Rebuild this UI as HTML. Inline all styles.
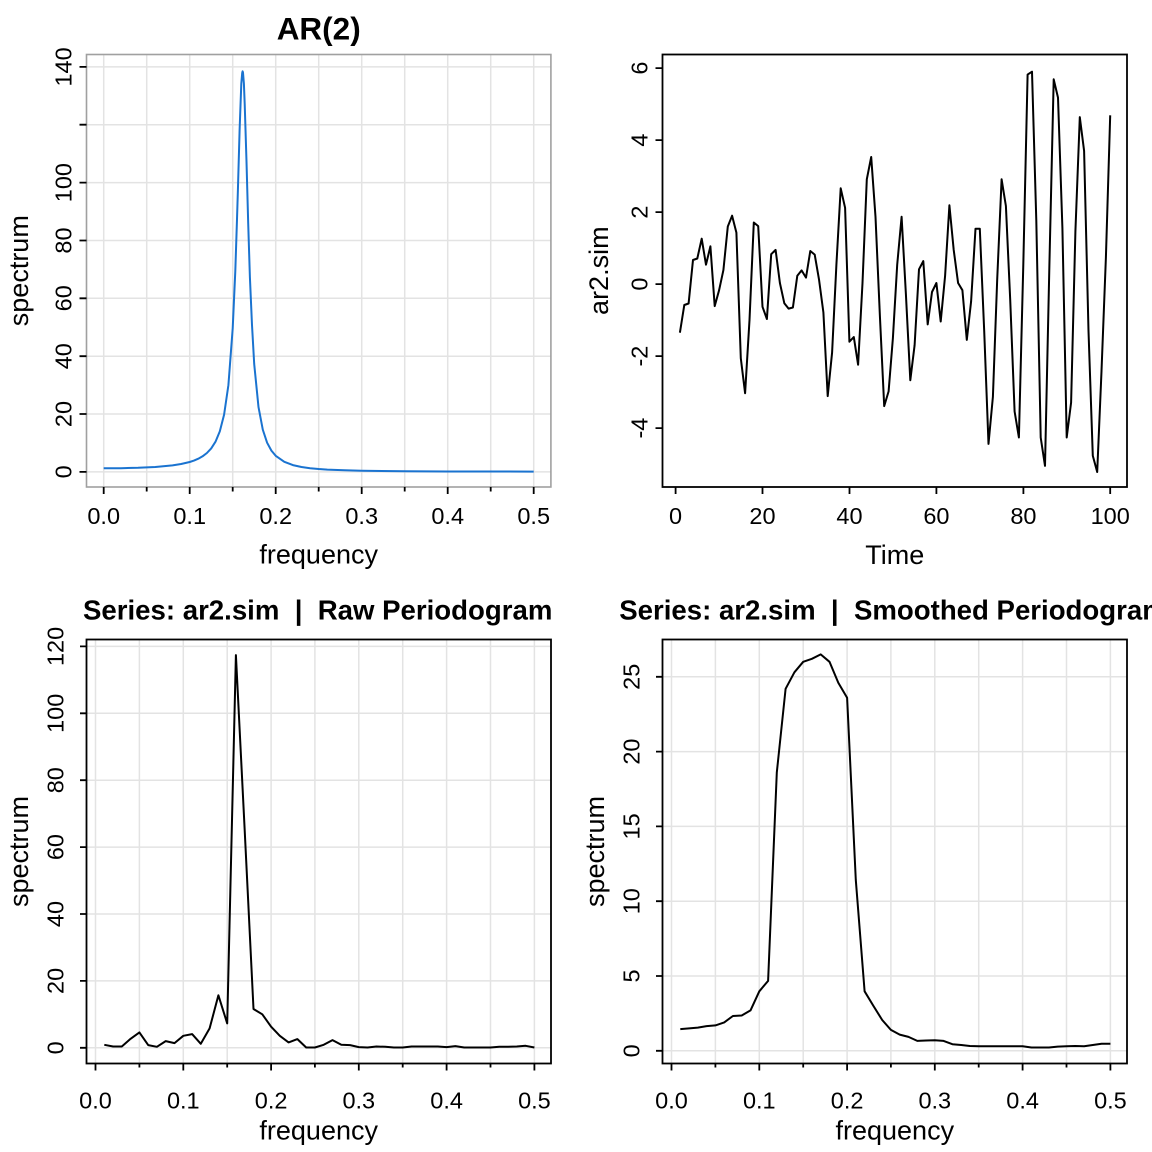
<!DOCTYPE html>
<html><head><meta charset="utf-8"><style>
html,body{margin:0;padding:0;background:#fff;}
svg{display:block;}
text{font-family:"Liberation Sans",Arial,sans-serif;fill:#000;}
.tk{font-size:23.5px;}
.lb{font-size:27px;}
.ti{font-size:27.6px;font-weight:bold;}
</style></head><body>
<svg width="1152" height="1152" viewBox="0 0 1152 1152" xmlns="http://www.w3.org/2000/svg">
<rect x="0" y="0" width="1152" height="1152" fill="#fff"/>

<!-- ===== Panel 1: AR(2) spectrum ===== -->
<g stroke="#e3e3e3" stroke-width="1.5" fill="none">
<path d="M103.7 54.5V487M146.7 54.5V487M189.7 54.5V487M232.7 54.5V487M275.7 54.5V487M318.7 54.5V487M361.7 54.5V487M404.7 54.5V487M447.7 54.5V487M490.7 54.5V487M533.7 54.5V487"/>
<path d="M86.5 471.9H550.9M86.5 414.0H550.9M86.5 356.2H550.9M86.5 298.3H550.9M86.5 240.5H550.9M86.5 182.6H550.9M86.5 124.7H550.9M86.5 66.9H550.9"/>
</g>
<polyline fill="none" stroke="#1a73d0" stroke-width="2" stroke-linejoin="round" points="103.7,468.3 120.9,468.2 138.1,467.8 155.3,467.0 172.5,465.4 181.1,464.0 189.7,462.0 194.0,460.6 198.3,458.7 202.6,456.3 206.9,453.0 211.2,448.4 215.5,441.7 219.8,431.4 224.1,414.6 228.4,385.1 232.7,328.4 235.3,271.1 237.0,219.3 237.9,190.1 239.6,130.2 241.3,83.7 242.2,73.0 242.6,71.3 243.0,72.7 243.9,83.7 244.7,103.9 246.5,161.5 248.2,223.4 249.9,277.2 252.0,325 254.2,364.0 258.5,407.1 262.8,429.7 267.1,442.7 271.4,450.6 275.7,455.8 284.3,461.8 292.9,465.1 301.5,467.0 310.1,468.2 318.7,469.0 327.3,469.6 344.5,470.3 361.7,470.8 404.7,471.3 447.7,471.5 490.7,471.5 533.7,471.6"/>
<rect x="86.5" y="54.5" width="464.4" height="432.5" fill="none" stroke="#a0a0a0" stroke-width="1.6"/>
<g stroke="#000" stroke-width="1.8">
<path d="M103.7 487V494M189.7 487V494M275.7 487V494M361.7 487V494M447.7 487V494M533.7 487V494"/>
<path d="M146.7 487V491.5M232.7 487V491.5M318.7 487V491.5M404.7 487V491.5M490.7 487V491.5"/>
<path d="M79.5 471.9H86.5M79.5 414.0H86.5M79.5 356.2H86.5M79.5 298.3H86.5M79.5 240.5H86.5M79.5 182.6H86.5M79.5 124.7H86.5M79.5 66.9H86.5"/>
</g>
<g class="tk" text-anchor="middle">
<text x="103.7" y="524">0.0</text><text x="189.7" y="524">0.1</text><text x="275.7" y="524">0.2</text><text x="361.7" y="524">0.3</text><text x="447.7" y="524">0.4</text><text x="533.7" y="524">0.5</text>
<text transform="translate(71.7,471.9) rotate(-90)">0</text>
<text transform="translate(71.7,414.0) rotate(-90)">20</text>
<text transform="translate(71.7,356.2) rotate(-90)">40</text>
<text transform="translate(71.7,298.3) rotate(-90)">60</text>
<text transform="translate(71.7,240.5) rotate(-90)">80</text>
<text transform="translate(71.7,182.6) rotate(-90)">100</text>
<text transform="translate(71.7,66.9) rotate(-90)">140</text>
</g>
<text x="318.7" y="39.5" text-anchor="middle" style="font-size:31.5px;font-weight:bold;">AR(2)</text>
<text class="lb" x="318.7" y="563.5" text-anchor="middle">frequency</text>
<text class="lb" transform="translate(28,270.7) rotate(-90)" text-anchor="middle">spectrum</text>

<!-- ===== Panel 2: time series ===== -->
<polyline fill="none" stroke="#000" stroke-width="2" stroke-linejoin="round" points="679.9,332.7 684.3,305.0 688.6,303.5 693.0,260.0 697.3,258.5 701.7,238.7 706.0,264.7 710.4,246.3 714.7,306.1 719.1,290.2 723.4,270.1 727.8,226.5 732.1,215.7 736.4,232.6 740.8,358.3 745.1,393.2 749.5,320.1 753.8,222.5 758.2,226.1 762.5,306.8 766.9,319.0 771.2,254.2 775.6,249.9 779.9,283.0 784.3,303.2 788.6,308.6 792.9,307.5 797.3,275.8 801.6,270.4 806.0,277.6 810.3,251.0 814.7,254.6 819.0,279.4 823.4,312.5 827.7,396.1 832.1,352.5 836.4,264.7 840.7,188.3 845.1,207.8 849.4,341.7 853.8,337.0 858.1,364.7 862.5,283.0 866.8,179.3 871.2,157.0 875.5,216.8 879.9,316.1 884.2,406.1 888.6,391.4 892.9,338.1 897.2,264.7 901.6,216.8 905.9,294.2 910.3,380.2 914.6,345.3 919.0,269.3 923.3,261.1 927.7,324.4 932.0,292.0 936.4,283.0 940.7,321.5 945.1,275.8 949.4,205.3 953.7,249.9 958.1,283.0 962.4,290.2 966.8,339.9 971.1,301.4 975.5,228.7 979.8,228.7 984.2,330.9 988.5,443.9 992.9,396.8 997.2,279.4 1001.6,179.3 1005.9,206.0 1010.2,299.6 1014.6,411.5 1018.9,437.5 1023.3,264.7 1027.6,74.6 1032.0,71.7 1036.3,220.4 1040.7,437.5 1045.0,465.9 1049.4,264.7 1053.7,79.3 1058.0,97.6 1062.4,227.9 1066.7,437.5 1071.1,402.5 1075.4,231.5 1079.8,117.1 1084.1,150.9 1088.5,330.9 1092.8,455.8 1097.2,472.0 1101.5,371.2 1105.9,257.5 1110.2,115.3"/>
<rect x="662.5" y="54.5" width="464.5" height="432.5" fill="none" stroke="#000" stroke-width="1.8"/>
<g stroke="#000" stroke-width="1.8">
<path d="M675.6 487V494M762.5 487V494M849.5 487V494M936.4 487V494M1023.4 487V494M1110.2 487V494"/>
<path d="M655.5 68.1H662.5M655.5 140.1H662.5M655.5 212.1H662.5M655.5 284.1H662.5M655.5 356.1H662.5M655.5 428.1H662.5"/>
</g>
<g class="tk" text-anchor="middle">
<text x="675.6" y="524">0</text><text x="762.5" y="524">20</text><text x="849.5" y="524">40</text><text x="936.4" y="524">60</text><text x="1023.4" y="524">80</text><text x="1110.2" y="524">100</text>
<text transform="translate(647.7,68.1) rotate(-90)">6</text>
<text transform="translate(647.7,140.1) rotate(-90)">4</text>
<text transform="translate(647.7,212.1) rotate(-90)">2</text>
<text transform="translate(647.7,284.1) rotate(-90)">0</text>
<text transform="translate(647.7,356.1) rotate(-90)">-2</text>
<text transform="translate(647.7,428.1) rotate(-90)">-4</text>
</g>
<text class="lb" x="894.8" y="564" text-anchor="middle">Time</text>
<text class="lb" transform="translate(608,270.7) rotate(-90)" text-anchor="middle">ar2.sim</text>

<!-- ===== Panel 3: raw periodogram ===== -->
<g stroke="#e3e3e3" stroke-width="1.5" fill="none">
<path d="M95.5 639.5V1063.5M139.4 639.5V1063.5M183.3 639.5V1063.5M227.2 639.5V1063.5M271.1 639.5V1063.5M314.9 639.5V1063.5M358.8 639.5V1063.5M402.7 639.5V1063.5M446.6 639.5V1063.5M490.5 639.5V1063.5M534.4 639.5V1063.5"/>
<path d="M86.5 1047.8H551M86.5 980.9H551M86.5 914.0H551M86.5 847.1H551M86.5 780.2H551M86.5 713.3H551M86.5 646.4H551"/>
</g>
<polyline fill="none" stroke="#000" stroke-width="2" stroke-linejoin="round" points="104.3,1044.8 113.1,1046.5 121.8,1046.5 130.6,1038.8 139.4,1032.4 148.2,1045.1 156.9,1046.8 165.7,1041.1 174.5,1043.1 183.3,1035.8 192.1,1034.1 200.8,1043.8 209.6,1028.4 218.4,995.3 227.2,1023.4 235.9,655.1 244.7,830.4 253.5,1009.0 262.3,1014.3 271.1,1026.7 279.8,1035.8 288.6,1042.4 297.4,1039.1 306.2,1047.5 314.9,1047.5 323.7,1044.8 332.5,1040.1 341.3,1044.8 350.1,1045.1 358.8,1047.1 367.6,1047.5 376.4,1046.5 385.2,1046.8 393.9,1047.5 402.7,1047.5 411.5,1046.5 420.3,1046.5 429.1,1046.5 437.8,1046.5 446.6,1047.1 455.4,1046.1 464.2,1047.5 472.9,1047.5 481.7,1047.5 490.5,1047.5 499.3,1046.8 508.1,1046.8 516.8,1046.5 525.6,1045.8 534.4,1047.5"/>
<rect x="86.5" y="639.5" width="464.5" height="424" fill="none" stroke="#000" stroke-width="1.8"/>
<g stroke="#000" stroke-width="1.8">
<path d="M95.5 1063.5V1070.5M183.3 1063.5V1070.5M271.1 1063.5V1070.5M358.8 1063.5V1070.5M446.6 1063.5V1070.5M534.4 1063.5V1070.5"/>
<path d="M139.4 1063.5V1067.5M227.2 1063.5V1067.5M314.9 1063.5V1067.5M402.7 1063.5V1067.5M490.5 1063.5V1067.5"/>
<path d="M80 1047.8H86.5M80 980.9H86.5M80 914.0H86.5M80 847.1H86.5M80 780.2H86.5M80 713.3H86.5M80 646.4H86.5"/>
</g>
<g class="tk" text-anchor="middle">
<text x="95.5" y="1108.5">0.0</text><text x="183.3" y="1108.5">0.1</text><text x="271.1" y="1108.5">0.2</text><text x="358.8" y="1108.5">0.3</text><text x="446.6" y="1108.5">0.4</text><text x="534.4" y="1108.5">0.5</text>
<text transform="translate(63.3,1047.8) rotate(-90)">0</text>
<text transform="translate(63.3,980.9) rotate(-90)">20</text>
<text transform="translate(63.3,914.0) rotate(-90)">40</text>
<text transform="translate(63.3,847.1) rotate(-90)">60</text>
<text transform="translate(63.3,780.2) rotate(-90)">80</text>
<text transform="translate(63.3,713.3) rotate(-90)">100</text>
<text transform="translate(63.3,646.4) rotate(-90)">120</text>
</g>
<text class="ti" x="317.7" y="619.5" text-anchor="middle" xml:space="preserve">Series: ar2.sim  |  Raw Periodogram</text>
<text class="lb" x="318.7" y="1139.5" text-anchor="middle">frequency</text>
<text class="lb" transform="translate(28,851.5) rotate(-90)" text-anchor="middle">spectrum</text>

<!-- ===== Panel 4: smoothed periodogram ===== -->
<g stroke="#e3e3e3" stroke-width="1.5" fill="none">
<path d="M671.5 639.5V1063.5M715.4 639.5V1063.5M759.3 639.5V1063.5M803.2 639.5V1063.5M847.1 639.5V1063.5M890.9 639.5V1063.5M934.8 639.5V1063.5M978.7 639.5V1063.5M1022.6 639.5V1063.5M1066.5 639.5V1063.5M1110.4 639.5V1063.5"/>
<path d="M662.5 1050.8H1127M662.5 976.0H1127M662.5 901.2H1127M662.5 826.4H1127M662.5 751.6H1127M662.5 676.8H1127"/>
</g>
<polyline fill="none" stroke="#000" stroke-width="2" stroke-linejoin="round" points="680.3,1029.1 689.1,1028.4 697.8,1027.6 706.6,1026.1 715.4,1025.4 724.2,1022.4 732.9,1016.0 741.7,1015.5 750.5,1010.4 759.3,991.3 768.1,980.9 776.8,772.5 785.6,688.8 794.4,672.3 803.2,661.8 811.9,658.8 820.7,654.4 829.5,661.8 838.3,682.8 847.1,697.7 855.8,880 864.6,991.3 873.4,1005.9 882.2,1020.0 890.9,1029.9 899.7,1034.6 908.5,1036.9 917.3,1040.9 926.1,1040.5 934.8,1040.2 943.6,1040.9 952.4,1044.2 961.2,1045.0 969.9,1046.0 978.7,1046.3 987.5,1046.3 996.3,1046.3 1005.1,1046.3 1013.8,1046.3 1022.6,1046.3 1031.4,1047.5 1040.2,1047.5 1049.0,1047.5 1057.7,1046.6 1066.5,1046.3 1075.3,1046.0 1084.1,1046.3 1092.8,1045.0 1101.6,1043.8 1110.4,1043.8"/>
<rect x="662.5" y="639.5" width="464.5" height="424" fill="none" stroke="#000" stroke-width="1.8"/>
<g stroke="#000" stroke-width="1.8">
<path d="M671.5 1063.5V1070.5M759.3 1063.5V1070.5M847.1 1063.5V1070.5M934.8 1063.5V1070.5M1022.6 1063.5V1070.5M1110.4 1063.5V1070.5"/>
<path d="M715.4 1063.5V1067.5M803.2 1063.5V1067.5M890.9 1063.5V1067.5M978.7 1063.5V1067.5M1066.5 1063.5V1067.5"/>
<path d="M656 1050.8H662.5M656 976.0H662.5M656 901.2H662.5M656 826.4H662.5M656 751.6H662.5M656 676.8H662.5"/>
</g>
<g class="tk" text-anchor="middle">
<text x="671.5" y="1108.5">0.0</text><text x="759.3" y="1108.5">0.1</text><text x="847.1" y="1108.5">0.2</text><text x="934.8" y="1108.5">0.3</text><text x="1022.6" y="1108.5">0.4</text><text x="1110.4" y="1108.5">0.5</text>
<text transform="translate(639.3,1050.8) rotate(-90)">0</text>
<text transform="translate(639.3,976.0) rotate(-90)">5</text>
<text transform="translate(639.3,901.2) rotate(-90)">10</text>
<text transform="translate(639.3,826.4) rotate(-90)">15</text>
<text transform="translate(639.3,751.6) rotate(-90)">20</text>
<text transform="translate(639.3,676.8) rotate(-90)">25</text>
</g>
<text class="ti" x="893" y="619.5" text-anchor="middle" xml:space="preserve">Series: ar2.sim  |  Smoothed Periodogram</text>
<text class="lb" x="894.8" y="1139.5" text-anchor="middle">frequency</text>
<text class="lb" transform="translate(604,851.5) rotate(-90)" text-anchor="middle">spectrum</text>
</svg>
</body></html>
